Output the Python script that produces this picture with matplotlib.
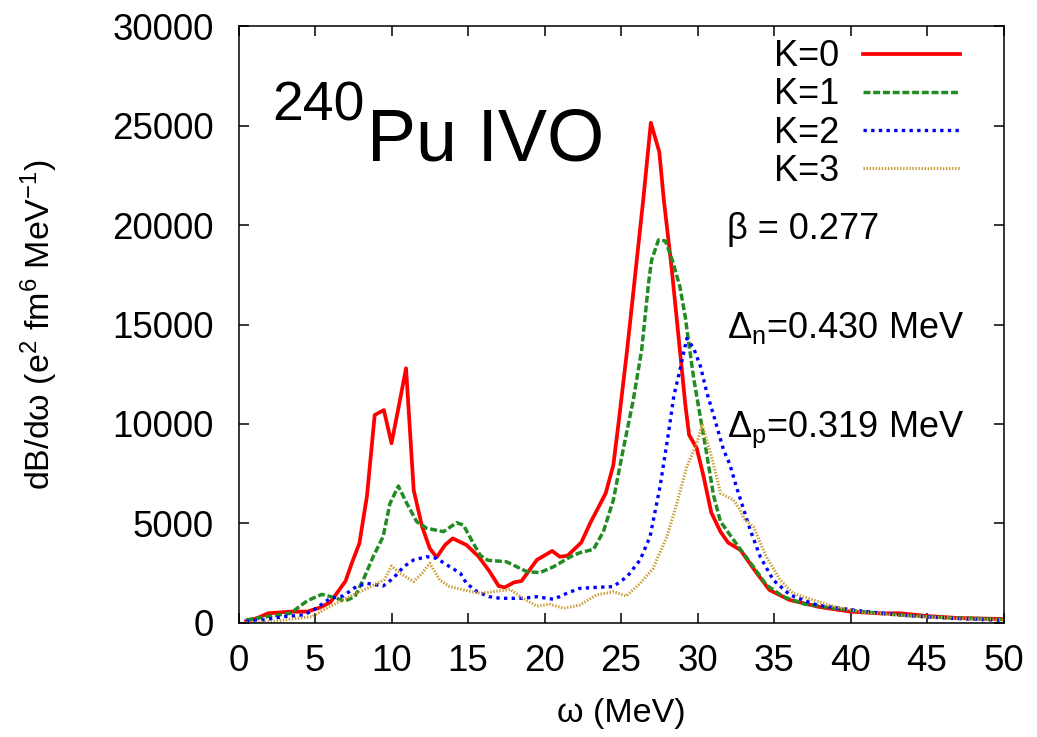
import matplotlib
matplotlib.use("Agg")
import matplotlib.pyplot as plt

plt.rcParams['font.family'] = ['Liberation Sans', 'DejaVu Sans']
plt.rcParams['mathtext.fontset'] = 'custom'
plt.rcParams['mathtext.rm'] = 'Liberation Sans'
plt.rcParams['mathtext.it'] = 'Liberation Sans:italic'
plt.rcParams['mathtext.bf'] = 'Liberation Sans:bold'

# strength functions dB/dw for each K projection
k0_x = [0.5, 1.2, 1.95, 3.4, 4.5, 5.3, 6.0, 7.0, 7.4, 7.9, 8.4, 8.9, 9.5, 10.0,
        10.45, 10.95, 11.45, 12.0, 12.5, 12.95, 13.5, 14.0, 14.9, 15.7, 16.4,
        17.0, 17.4, 18.0, 18.5, 19.5, 20.5, 21.0, 21.5, 22.4, 23.0, 24.0, 24.5,
        24.85, 25.4, 26.45, 26.95, 27.5, 27.8, 28.3, 28.85, 29.2, 29.45, 29.95,
        30.4, 30.9, 31.5, 32.0, 32.8, 33.8, 34.7, 36.0, 38.0, 40.0, 42.0, 43.2,
        45.0, 47.0, 50.0]
k0_y = [100, 240, 490, 570, 570, 770, 1040, 2110, 3000, 4000, 6400, 10450,
        10700, 9030, 10790, 12800, 6680, 4840, 3750, 3300, 3920, 4250, 3920,
        3330, 2600, 1860, 1790, 2040, 2110, 3170, 3620, 3330, 3380, 4040, 5040,
        6520, 7940, 10120, 13720, 21250, 25140, 23680, 21250, 17900, 13700,
        11000, 9450, 8780, 7350, 5550, 4590, 4040, 3670, 2580, 1660, 1160, 800,
        570, 480, 490, 350, 250, 200]

k1_x = [0.5, 1.85, 3.4, 4.5, 5.45, 6.2, 6.95, 7.6, 8.15, 8.8, 9.45, 9.9, 10.45,
        11.0, 11.65, 12.3, 13.4, 14.25, 14.7, 15.35, 15.8, 16.3, 17.5, 18.85,
        19.7, 20.6, 21.7, 22.3, 23.2, 23.85, 24.5, 25.05, 25.8, 26.35, 26.8,
        27.0, 27.45, 27.9, 28.35, 28.85, 29.2, 29.4, 29.75, 30.15, 30.6, 31.05,
        31.5, 32.2, 32.9, 33.65, 34.5, 35.6, 37.0, 38.9, 41.0, 43.2, 46.0, 50.0]
k1_y = [150, 320, 490, 1120, 1440, 1290, 1105, 1320, 2160, 3330, 4340, 6010,
        6880, 6010, 5090, 4760, 4590, 5040, 4920, 4000, 3400, 3150, 3080, 2580,
        2530, 2830, 3330, 3530, 3700, 4590, 6180, 8360, 11200, 13720, 17070,
        18240, 19250, 19200, 18240, 16900, 15390, 14220, 12300, 10500, 8500,
        6400, 5100, 4340, 3600, 2830, 1910, 1320, 950, 740, 550, 400, 280, 180]

k2_x = [0.5, 1.6, 2.95, 4.25, 4.9, 6.0, 6.85, 7.7, 8.4, 9.05, 9.45, 10.1, 10.8,
        11.45, 12.3, 12.95, 13.8, 14.5, 14.9, 15.6, 16.4, 17.1, 18.6, 19.5,
        20.6, 21.45, 22.3, 23.4, 24.5, 25.4, 26.25, 26.9, 27.55, 28.1, 28.45,
        28.85, 29.3, 29.75, 30.2, 30.6, 31.05, 31.7, 32.1, 32.6, 33.45, 34.1,
        34.95, 36.05, 37.8, 41.0, 44.0, 47.0, 50.0]
k2_y = [70, 150, 320, 400, 650, 1240, 1360, 1830, 1990, 1910, 1860, 2240, 2830,
        3170, 3330, 3250, 2830, 2500, 1990, 1570, 1320, 1240, 1240, 1320, 1190,
        1490, 1740, 1790, 1830, 2330, 3170, 4340, 6850, 9530, 11400, 12710,
        14300, 13800, 12880, 11600, 10450, 8700, 8000, 6700, 4670, 3330, 2160,
        1410, 900, 570, 350, 220, 130]

k3_x = [0.5, 2.3, 3.8, 4.8, 5.55, 6.4, 7.5, 8.4, 9.05, 9.55, 10.0, 10.55, 11.45,
        12.0, 12.5, 13.15, 13.8, 14.7, 15.8, 16.65, 17.75, 18.6, 19.5, 20.35,
        21.25, 22.3, 23.4, 24.5, 25.35, 26.25, 27.1, 28.0, 28.65, 29.3, 29.95,
        30.3, 30.8, 31.25, 31.5, 32.35, 32.8, 33.0, 33.65, 34.5, 35.4, 36.25,
        38.9, 41.0, 44.0, 47.0, 50.0]
k3_y = [20, 70, 235, 320, 650, 990, 1410, 1740, 1990, 2190, 2860, 2500, 2080,
        2500, 3000, 2160, 1830, 1660, 1490, 1570, 1690, 1240, 850, 940, 740, 900,
        1410, 1570, 1360, 1990, 2750, 4340, 6010, 7850, 9030, 9950, 8690, 7350,
        6520, 6180, 5680, 5260, 4840, 3330, 2160, 1490, 820, 520, 350, 230, 150]

fig = plt.figure(figsize=(10.37, 7.37), dpi=100)
ax = fig.add_axes([0.230, 0.1547, 0.7377, 0.8100])

ax.plot(k0_x, k0_y, color='#ff0000', lw=2.7, label='K=0')
ax.plot(k1_x, k1_y, color='#228b22', lw=2.5, dashes=(2.0, 0.8), label='K=1')
ax.plot(k2_x, k2_y, color='#0000ff', lw=2.4, dashes=(1.0, 1.3), label='K=2')
ax.plot(k3_x, k3_y, color='#c89b2e', lw=2.2, dashes=(0.45, 0.55), label='K=3')

ax.set_xlim(0, 50)
ax.set_ylim(0, 30000)
ax.set_xticks(range(0, 51, 5))
ax.set_yticks(range(0, 30001, 5000))
ax.tick_params(direction='in', length=7, width=1.1, top=True, right=True,
               labelsize=26.5)
ax.tick_params(axis='x', pad=15)
ax.tick_params(axis='y', pad=18)
for s in ax.spines.values():
    s.set_linewidth(1.1)

ax.set_xlabel('ω (MeV)', fontsize=24.5, labelpad=14)
ax.set_ylabel('dB/dω (e$^2$ fm$^6$ MeV$^{-1}$)', fontsize=24.5, labelpad=37)

leg = ax.legend(loc='upper right', bbox_to_anchor=(0.943, 0.978),
                markerfirst=False, frameon=False, fontsize=26,
                handlelength=2.69, handletextpad=0.66, labelspacing=0.09,
                borderpad=0, borderaxespad=0)

# nucleus label, mass number drawn as a raised smaller text
ax.text(0.0438, 0.8425, '240', transform=ax.transAxes, fontsize=40,
        va='baseline')
ax.text(0.168, 0.7755, 'Pu IVO', transform=ax.transAxes, fontsize=53,
        va='baseline')

ax.text(0.639, 0.643, 'β = 0.277', transform=ax.transAxes, fontsize=26)
ax.text(0.639, 0.478, r'$\Delta_{\mathrm{n}}$=0.430 MeV', transform=ax.transAxes,
        fontsize=26)
ax.text(0.639, 0.311, r'$\Delta_{\mathrm{p}}$=0.319 MeV', transform=ax.transAxes,
        fontsize=26)

fig.savefig('out.png', dpi=100)
